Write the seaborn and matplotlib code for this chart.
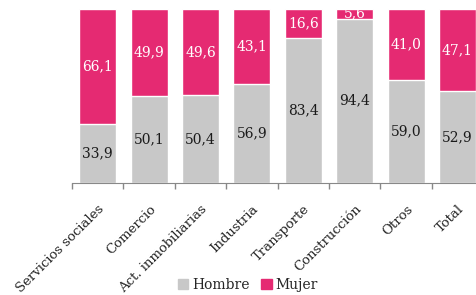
import pandas as pd
import matplotlib.pyplot as plt
import matplotlib.patches as mpatches
import seaborn as sns

sectores = ['Servicios sociales', 'Comercio', 'Act. inmobiliarias', 'Industria',
            'Transporte', 'Construcción', 'Otros', 'Total']
hombre = [33.9, 50.1, 50.4, 56.9, 83.4, 94.4, 59.0, 52.9]
mujer = [66.1, 49.9, 49.6, 43.1, 16.6, 5.6, 41.0, 47.1]

GRIS = '#C8C8C8'
ROSA = '#E52A72'

sns.set_style('white')
plt.rcParams['font.family'] = ['DejaVu Serif']

df = pd.DataFrame({'sector': sectores, 'Hombre': hombre, 'Mujer': mujer})
df['tope'] = df['Hombre'] + df['Mujer']

fig = plt.figure(figsize=(4.77, 2.95), dpi=100)
ax = fig.add_axes([0.151, 0.38, 0.862, 0.59])

sns.barplot(data=df, x='sector', y='tope', color=ROSA, width=0.72,
            saturation=1, ax=ax)
sns.barplot(data=df, x='sector', y='Hombre', color=GRIS, width=0.72,
            saturation=1, ax=ax)

for i, (h, m) in enumerate(zip(hombre, mujer)):
    ax.text(i, h / 2, f'{h:.1f}'.replace('.', ','), ha='center', va='center',
            fontsize=10, color='#1a1a1a')
    ax.text(i, h + m / 2, f'{m:.1f}'.replace('.', ','), ha='center', va='center',
            fontsize=10, color='white')

ax.set_xlim(-0.5, len(sectores) - 0.5)
ax.set_ylim(0, 100)
ax.set_xlabel('')
ax.set_ylabel('')
ax.set_yticks([])
ax.set_xticks(range(len(sectores)))
ax.set_xticklabels(sectores, rotation=45, ha='right', rotation_mode='anchor',
                   fontsize=9.5)
ax.set_xticks([i - 0.5 for i in range(len(sectores) + 1)], minor=True)
ax.tick_params(axis='x', which='major', length=0, pad=14)
ax.tick_params(axis='x', which='minor', length=4, color='#888888', width=1,
               direction='out', bottom=True)
for s in ['top', 'right', 'left']:
    ax.spines[s].set_visible(False)
ax.spines['bottom'].set_color('#888888')

handles = [mpatches.Patch(color=GRIS, label='Hombre'),
           mpatches.Patch(color=ROSA, label='Mujer')]
fig.legend(handles=handles, loc='center', bbox_to_anchor=(0.52, 0.034), ncol=2,
           frameon=False, fontsize=10, handlelength=0.75, handleheight=0.75,
           handletextpad=0.3, columnspacing=0.8, borderpad=0)

fig.savefig('out.png', dpi=100)
